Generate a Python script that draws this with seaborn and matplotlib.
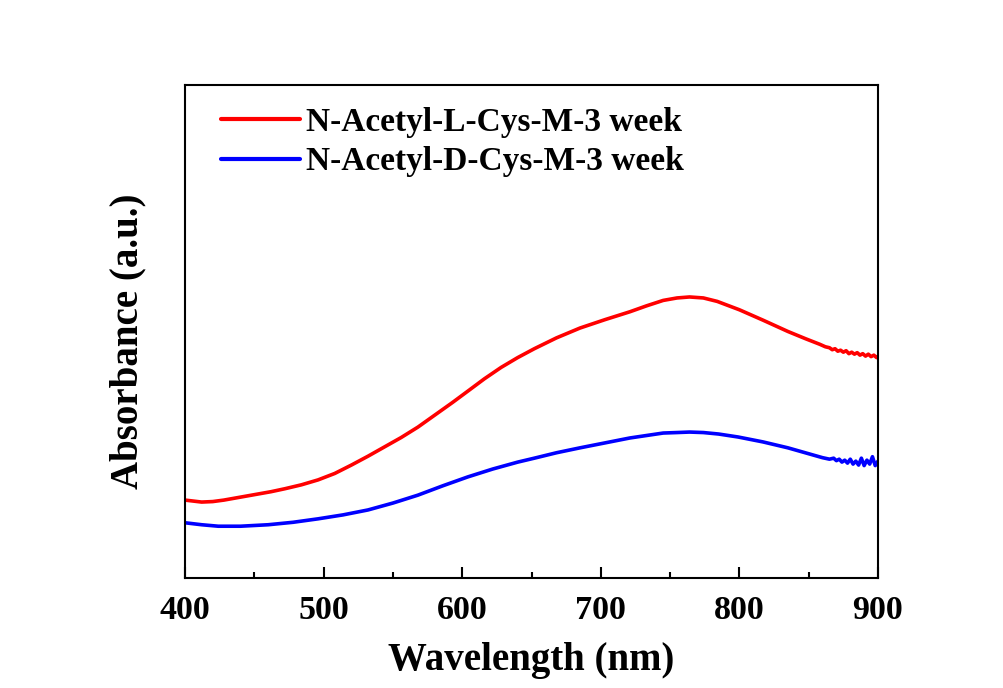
import numpy as np
import pandas as pd
import seaborn as sns
import matplotlib.pyplot as plt
from matplotlib.ticker import MultipleLocator, NullLocator

# Absorbance spectra (arbitrary units)
l_wavelength = [400, 406, 412, 420, 428, 436, 450, 462, 472, 484, 496, 508, 520, 532, 544,
                556, 568, 580, 593, 605, 616, 628, 640, 652, 668, 685, 703, 721, 733, 745,
                755, 764, 774, 784, 800, 817, 835, 848, 858, 862, 865, 867, 869, 871, 873,
                875, 877, 879, 881, 883, 885, 887, 889, 891, 893, 895, 897, 899, 900]
l_absorb = [0.158, 0.156, 0.154, 0.155, 0.158, 0.162, 0.169, 0.175, 0.181, 0.189, 0.199,
            0.212, 0.229, 0.247, 0.266, 0.285, 0.306, 0.330, 0.356, 0.381, 0.404, 0.427,
            0.447, 0.465, 0.487, 0.507, 0.524, 0.540, 0.552, 0.563, 0.568, 0.570, 0.568,
            0.561, 0.544, 0.523, 0.500, 0.485, 0.474, 0.469, 0.467, 0.463, 0.465, 0.460,
            0.462, 0.458, 0.461, 0.455, 0.458, 0.454, 0.457, 0.452, 0.455, 0.450, 0.454,
            0.449, 0.452, 0.447, 0.450]

d_wavelength = [400, 412, 424, 440, 460, 478, 496, 514, 532, 550, 568, 586, 604, 622,
                640, 652, 668, 685, 703, 721, 733, 745, 755, 764, 774, 785, 799, 817,
                835, 850, 855, 860, 865, 868, 870, 872, 874, 876, 878, 880, 882, 884,
                886, 888, 890, 892, 894, 896, 898, 900]
d_absorb = [0.112, 0.108, 0.105, 0.105, 0.108, 0.113, 0.120, 0.128, 0.138, 0.152, 0.168,
            0.187, 0.205, 0.221, 0.235, 0.243, 0.254, 0.264, 0.274, 0.284, 0.289, 0.294,
            0.295, 0.296, 0.295, 0.292, 0.286, 0.276, 0.264, 0.252, 0.248, 0.244, 0.241,
            0.243, 0.238, 0.241, 0.235, 0.239, 0.233, 0.241, 0.231, 0.237, 0.229, 0.243,
            0.228, 0.239, 0.231, 0.246, 0.228, 0.237]

labels = ["N-Acetyl-L-Cys-M-3 week", "N-Acetyl-D-Cys-M-3 week"]
colors = ["#FF0000", "#0000FF"]
x_ticks = [400, 500, 600, 700, 800, 900]

df = pd.concat([
    pd.DataFrame({"Wavelength": l_wavelength, "Absorbance": l_absorb, "Sample": labels[0]}),
    pd.DataFrame({"Wavelength": d_wavelength, "Absorbance": d_absorb, "Sample": labels[1]}),
], ignore_index=True)

sns.set_style("ticks")
plt.rcParams["font.family"] = ["Liberation Serif", "DejaVu Serif"]
plt.rcParams["font.weight"] = "bold"
plt.rcParams["text.color"] = "black"
plt.rcParams["axes.labelcolor"] = "black"
plt.rcParams["xtick.color"] = "black"
plt.rcParams["ytick.color"] = "black"

fig = plt.figure(figsize=(10.04, 6.88), dpi=100)
ax = fig.add_axes([0.1843, 0.1599, 0.6902, 0.7166])

sns.lineplot(data=df, x="Wavelength", y="Absorbance", hue="Sample",
             palette=colors, hue_order=labels, linewidth=2.6, sort=False,
             estimator=None, ax=ax)

ax.set_xlim(400, 900)
ax.set_ylim(0, 1.0)
ax.set_xticks(x_ticks)
ax.xaxis.set_minor_locator(MultipleLocator(50))
ax.yaxis.set_major_locator(NullLocator())
ax.tick_params(axis="x", which="major", direction="in", length=8, width=1.5,
               labelsize=24.5, pad=12, top=False, colors="black")
ax.tick_params(axis="x", which="minor", direction="in", length=4.5, width=1.5, top=False)
for lab in ax.get_xticklabels():
    lab.set_fontweight("bold")

for sp in ax.spines.values():
    sp.set_linewidth(1.5)
    sp.set_color("black")
    sp.set_visible(True)

ax.set_xlabel("Wavelength (nm)", fontsize=28, fontweight="bold", labelpad=12)
ax.set_ylabel("Absorbance (a.u.)", fontsize=28, fontweight="bold", labelpad=28)
ax.yaxis.label.set_y(0.48)

leg = ax.legend(loc="upper left", bbox_to_anchor=(0.009, 1.016), frameon=False,
                prop={"family": "Liberation Serif", "weight": "bold", "size": 24},
                handlelength=2.35, handletextpad=0.2, labelspacing=0.25)
for line in leg.get_lines():
    line.set_linewidth(3)

fig.savefig("out.png", dpi=100, facecolor="white")
